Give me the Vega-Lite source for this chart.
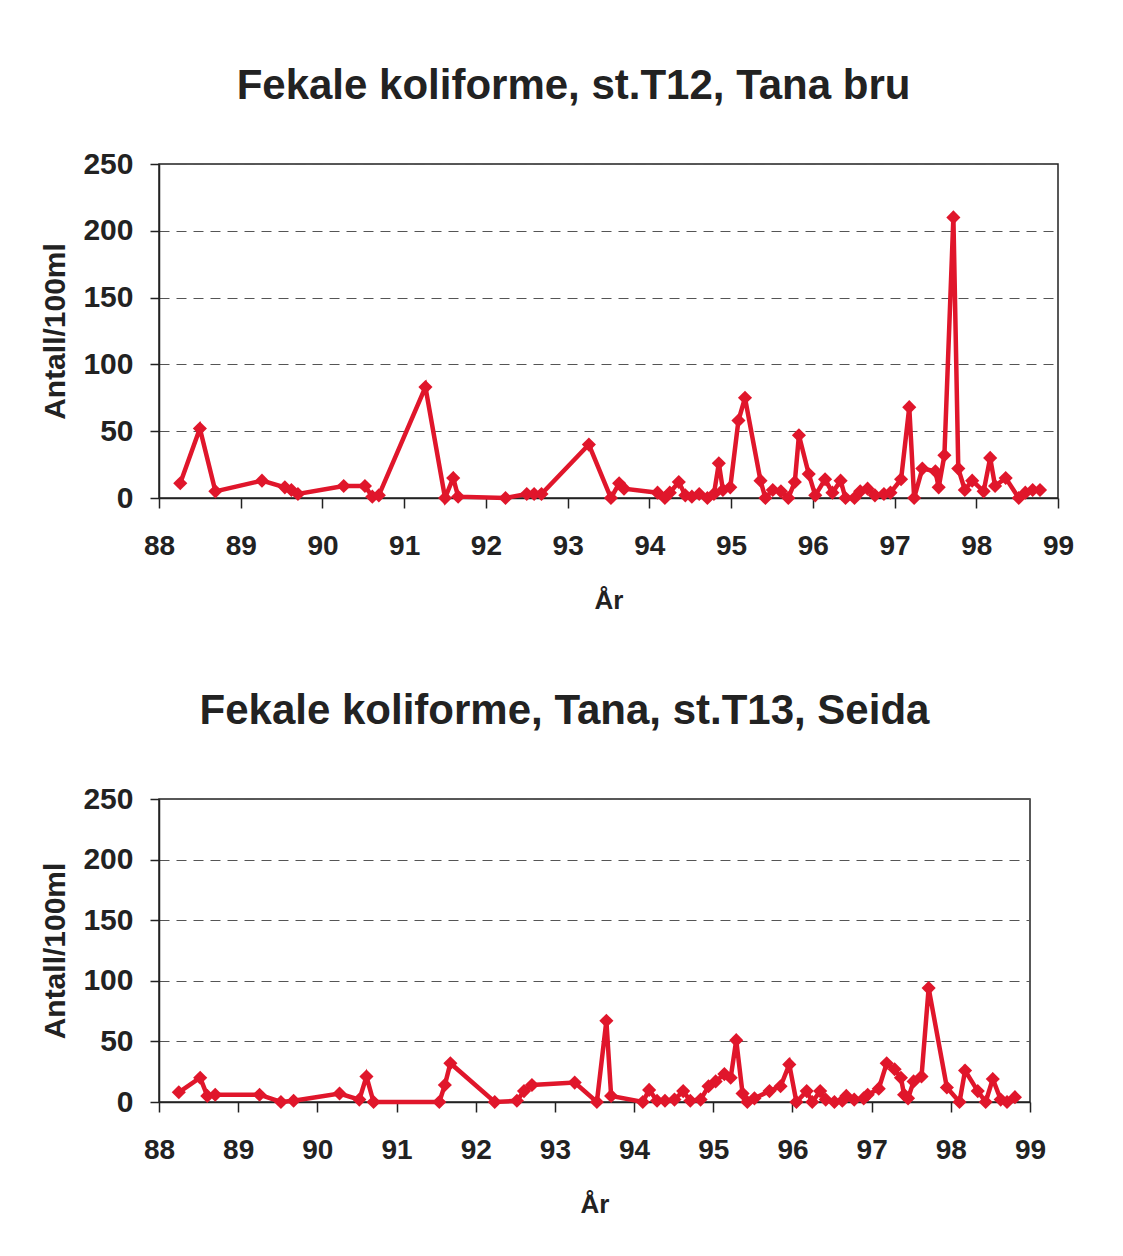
{
  "$schema": "https://vega.github.io/schema/vega-lite/v6.json",
  "background": "white",
  "padding": {"left": 40, "top": 64, "right": 10, "bottom": 10},
  "spacing": 75,
  "config": {
    "font": "Liberation Sans",
    "view": {"stroke": "#222", "strokeWidth": 1.5},
    "title": {"font": "Liberation Sans", "fontSize": 42, "fontWeight": "bold", "color": "#222"},
    "axis": {
      "labelFont": "Liberation Sans", "labelFontWeight": "bold", "labelColor": "#222",
      "titleFont": "Liberation Sans", "titleFontWeight": "bold", "titleColor": "#222",
      "domainColor": "#222", "domainWidth": 1.5, "tickColor": "#222", "tickWidth": 1.5,
      "gridColor": "#555", "gridDash": [10, 7], "gridWidth": 1
    }
  },
  "datasets": {
    "t12": [
      {"year": 88.26, "value": 11}, {"year": 88.5, "value": 52}, {"year": 88.69, "value": 5},
      {"year": 89.26, "value": 13}, {"year": 89.54, "value": 8}, {"year": 89.62, "value": 6},
      {"year": 89.7, "value": 3}, {"year": 90.26, "value": 9}, {"year": 90.52, "value": 9},
      {"year": 90.61, "value": 1}, {"year": 90.69, "value": 2}, {"year": 91.26, "value": 83},
      {"year": 91.5, "value": 0}, {"year": 91.6, "value": 15}, {"year": 91.66, "value": 1},
      {"year": 92.24, "value": 0}, {"year": 92.5, "value": 3}, {"year": 92.59, "value": 3},
      {"year": 92.68, "value": 3}, {"year": 93.26, "value": 40}, {"year": 93.53, "value": 0},
      {"year": 93.63, "value": 11}, {"year": 93.69, "value": 7}, {"year": 94.1, "value": 4},
      {"year": 94.19, "value": 0}, {"year": 94.25, "value": 4}, {"year": 94.36, "value": 12},
      {"year": 94.44, "value": 2}, {"year": 94.52, "value": 1}, {"year": 94.61, "value": 3},
      {"year": 94.71, "value": 0}, {"year": 94.79, "value": 3}, {"year": 94.85, "value": 26},
      {"year": 94.9, "value": 6}, {"year": 94.99, "value": 8}, {"year": 95.09, "value": 58},
      {"year": 95.17, "value": 75}, {"year": 95.36, "value": 13}, {"year": 95.42, "value": 0},
      {"year": 95.51, "value": 6}, {"year": 95.61, "value": 5}, {"year": 95.7, "value": 0},
      {"year": 95.78, "value": 12}, {"year": 95.83, "value": 47}, {"year": 95.95, "value": 18},
      {"year": 96.03, "value": 2}, {"year": 96.15, "value": 14}, {"year": 96.24, "value": 4},
      {"year": 96.34, "value": 13}, {"year": 96.4, "value": 0}, {"year": 96.51, "value": 0},
      {"year": 96.58, "value": 5}, {"year": 96.67, "value": 7}, {"year": 96.76, "value": 2},
      {"year": 96.87, "value": 3}, {"year": 96.95, "value": 4}, {"year": 97.08, "value": 14},
      {"year": 97.18, "value": 68}, {"year": 97.24, "value": 0}, {"year": 97.34, "value": 22},
      {"year": 97.5, "value": 20}, {"year": 97.54, "value": 8}, {"year": 97.61, "value": 32},
      {"year": 97.72, "value": 210}, {"year": 97.78, "value": 22}, {"year": 97.86, "value": 6},
      {"year": 97.95, "value": 13}, {"year": 98.09, "value": 5}, {"year": 98.17, "value": 30},
      {"year": 98.23, "value": 9}, {"year": 98.36, "value": 15}, {"year": 98.52, "value": 0},
      {"year": 98.6, "value": 4}, {"year": 98.69, "value": 6}, {"year": 98.78, "value": 6}
    ],
    "t13": [
      {"year": 88.25, "value": 8}, {"year": 88.52, "value": 20}, {"year": 88.61, "value": 5},
      {"year": 88.71, "value": 6}, {"year": 89.27, "value": 6}, {"year": 89.54, "value": 0},
      {"year": 89.7, "value": 1}, {"year": 90.28, "value": 7}, {"year": 90.53, "value": 2},
      {"year": 90.62, "value": 21}, {"year": 90.71, "value": 0}, {"year": 91.54, "value": 0},
      {"year": 91.61, "value": 14}, {"year": 91.68, "value": 32}, {"year": 92.24, "value": 0},
      {"year": 92.52, "value": 1}, {"year": 92.61, "value": 9}, {"year": 92.71, "value": 14},
      {"year": 93.25, "value": 16}, {"year": 93.53, "value": 0}, {"year": 93.65, "value": 67},
      {"year": 93.71, "value": 5}, {"year": 94.11, "value": 0}, {"year": 94.19, "value": 10},
      {"year": 94.29, "value": 1}, {"year": 94.39, "value": 1}, {"year": 94.51, "value": 2},
      {"year": 94.62, "value": 9}, {"year": 94.71, "value": 1}, {"year": 94.84, "value": 2},
      {"year": 94.94, "value": 13}, {"year": 95.03, "value": 17}, {"year": 95.14, "value": 23},
      {"year": 95.22, "value": 20}, {"year": 95.29, "value": 51}, {"year": 95.37, "value": 7},
      {"year": 95.43, "value": 0}, {"year": 95.52, "value": 3}, {"year": 95.71, "value": 9},
      {"year": 95.85, "value": 13}, {"year": 95.96, "value": 31}, {"year": 96.05, "value": 0},
      {"year": 96.18, "value": 9}, {"year": 96.25, "value": 0}, {"year": 96.35, "value": 9},
      {"year": 96.42, "value": 2}, {"year": 96.53, "value": 0}, {"year": 96.63, "value": 1},
      {"year": 96.68, "value": 5}, {"year": 96.78, "value": 2}, {"year": 96.9, "value": 3},
      {"year": 96.95, "value": 6}, {"year": 97.09, "value": 11}, {"year": 97.19, "value": 32},
      {"year": 97.29, "value": 27}, {"year": 97.37, "value": 20}, {"year": 97.41, "value": 6},
      {"year": 97.46, "value": 3}, {"year": 97.53, "value": 17}, {"year": 97.63, "value": 21},
      {"year": 97.72, "value": 94}, {"year": 97.95, "value": 12}, {"year": 98.11, "value": 0},
      {"year": 98.18, "value": 26}, {"year": 98.34, "value": 9}, {"year": 98.44, "value": 0},
      {"year": 98.53, "value": 19}, {"year": 98.63, "value": 2}, {"year": 98.71, "value": 0},
      {"year": 98.81, "value": 4}
    ]
  },
  "vconcat": [
    {
      "title": {"text": "Fekale koliforme, st.T12, Tana bru", "offset": 41, "dx": -35},
      "width": 899,
      "height": 334,
      "data": {"name": "t12"},
      "mark": {"type": "line", "color": "#e0162b", "strokeWidth": 4.5, "point": {"shape": "diamond", "size": 200, "filled": true, "color": "#e0162b", "opacity": 1}},
      "encoding": {
        "x": {"field": "year", "type": "quantitative", "scale": {"domain": [88, 99], "nice": false, "zero": false},
              "axis": {"values": [88, 89, 90, 91, 92, 93, 94, 95, 96, 97, 98, 99], "format": "d", "grid": false, "title": "År",
                       "labelFlush": false, "labelFontSize": 28, "titleFontSize": 26, "tickSize": 10, "labelPadding": 24, "titlePadding": 27}},
        "y": {"field": "value", "type": "quantitative", "scale": {"domain": [0, 250], "nice": false},
              "axis": {"values": [0, 50, 100, 150, 200, 250], "title": "Antall/100ml", "labelFontSize": 30, "titleFontSize": 30,
                       "labelFlush": false, "tickSize": 9, "labelPadding": 17, "titlePadding": 12}}
      }
    },
    {
      "title": {"text": "Fekale koliforme, Tana, st.T13, Seida", "offset": 51, "dx": -30},
      "width": 871,
      "height": 303,
      "data": {"name": "t13"},
      "mark": {"type": "line", "color": "#e0162b", "strokeWidth": 4.5, "point": {"shape": "diamond", "size": 200, "filled": true, "color": "#e0162b", "opacity": 1}},
      "encoding": {
        "x": {"field": "year", "type": "quantitative", "scale": {"domain": [88, 99], "nice": false, "zero": false},
              "axis": {"values": [88, 89, 90, 91, 92, 93, 94, 95, 96, 97, 98, 99], "format": "d", "grid": false, "title": "År",
                       "labelFlush": false, "labelFontSize": 28, "titleFontSize": 26, "tickSize": 10, "labelPadding": 24, "titlePadding": 27}},
        "y": {"field": "value", "type": "quantitative", "scale": {"domain": [0, 250], "nice": false},
              "axis": {"values": [0, 50, 100, 150, 200, 250], "title": "Antall/100ml", "labelFontSize": 30, "titleFontSize": 30,
                       "labelFlush": false, "tickSize": 9, "labelPadding": 17, "titlePadding": 12}}
      }
    }
  ]
}
